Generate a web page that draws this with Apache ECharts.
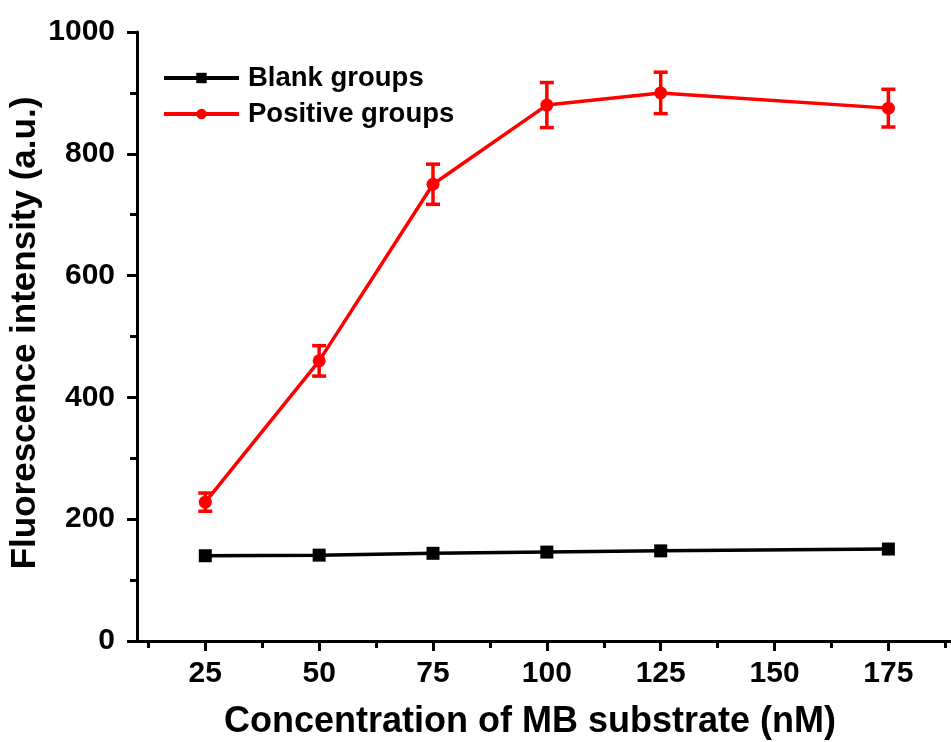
<!DOCTYPE html>
<html>
<head>
<meta charset="utf-8">
<script src="https://cdn.jsdelivr.net/npm/echarts@6/dist/echarts.min.js"></script>
<style>
html,body{margin:0;padding:0;background:#fff;}
#chart{width:951px;height:742px;}
</style>
</head>
<body>
<div id="chart"></div>
<script>
var concentrations = [25, 50, 75, 100, 125, 175];
var blankValues = [140, 141, 144, 146, 148, 151];
var positiveValues = [228, 460, 750, 880, 900, 875];
var positiveErrors = [15, 25, 33, 37, 34, 31];
var xMajorTicks = [25, 50, 75, 100, 125, 150, 175];
var xMinorTicks = [12.5, 37.5, 62.5, 87.5, 112.5, 137.5, 162.5, 187.5];
var yTitle = 'Fluorescence intensity (a.u.)';
var xTitle = 'Concentration of MB substrate (nM)';

var FONT = '"Liberation Sans", Arial, sans-serif';

var blankData = concentrations.map(function (c, i) { return [c, blankValues[i]]; });
var positiveData = concentrations.map(function (c, i) { return [c, positiveValues[i]]; });
var errorData = concentrations.map(function (c, i) {
  return [c, positiveValues[i] - positiveErrors[i], positiveValues[i] + positiveErrors[i]];
});

var chart = echarts.init(document.getElementById('chart'), null, {renderer: 'canvas'});

var option = {
  backgroundColor: '#fff',
  animation: false,
  grid: {left: 137, right: 0, top: 32, bottom: 101, containLabel: false, outerBoundsMode: 'none'},
  graphic: [{
    type: 'text', x: 25, y: 333, rotation: Math.PI / 2,
    style: {text: yTitle, fontFamily: FONT, fontWeight: 'bold', fontSize: 35, fill: '#000',
      align: 'center', verticalAlign: 'middle'}
  }],
  legend: {
    left: 157, top: 59, orient: 'vertical',
    itemWidth: 75, itemHeight: 13, itemGap: 8,
    lineStyle: {width: 4},
    textStyle: {fontFamily: FONT, fontWeight: 'bold', fontSize: 27.5, color: '#000', padding: [0, 0, 0, 4]},
    data: ['Blank groups', 'Positive groups']
  },
  xAxis: [{
    type: 'value', min: 10, max: 188.75,
    name: xTitle, nameLocation: 'middle', nameGap: 63,
    nameTextStyle: {fontFamily: FONT, fontWeight: 'bold', fontSize: 36, color: '#000', padding: [0, 28, 0, 0]},
    axisLine: {show: true, onZero: false, lineStyle: {color: '#000', width: 3}},
    axisTick: {show: true, inside: false, length: 10, lineStyle: {color: '#000', width: 3}, customValues: xMajorTicks},
    axisLabel: {show: true, margin: 18, fontFamily: FONT, fontWeight: 'bold', fontSize: 30, color: '#000', customValues: xMajorTicks},
    splitLine: {show: false}
  }, {
    type: 'value', min: 10, max: 188.75, position: 'bottom',
    axisLine: {show: false, onZero: false},
    axisTick: {show: true, inside: false, length: 7, lineStyle: {color: '#000', width: 3}, customValues: xMinorTicks},
    axisLabel: {show: false, customValues: xMinorTicks},
    splitLine: {show: false}
  }],
  yAxis: {
    type: 'value', min: 0, max: 1000, interval: 200,
    axisLine: {show: true, onZero: false, lineStyle: {color: '#000', width: 3}},
    axisTick: {show: true, inside: false, length: 10, lineStyle: {color: '#000', width: 3}},
    minorTick: {show: true, splitNumber: 2, length: 7, lineStyle: {color: '#000', width: 3}},
    axisLabel: {margin: 22, fontFamily: FONT, fontWeight: 'bold', fontSize: 30, color: '#000',
      formatter: function (v) { return String(v); }},
    splitLine: {show: false}
  },
  series: [{
    name: 'Blank groups', type: 'line', data: blankData,
    symbol: 'rect', symbolSize: 13, showAllSymbol: true,
    lineStyle: {color: '#000', width: 3.5},
    itemStyle: {color: '#000'},
    z: 3
  }, {
    name: 'Positive groups', type: 'line', data: positiveData,
    symbol: 'circle', symbolSize: 13,
    lineStyle: {color: '#ff0000', width: 3.5},
    itemStyle: {color: '#ff0000'},
    z: 3
  }, {
    name: 'err', type: 'custom', data: errorData,
    renderItem: function (params, api) {
      var x = api.value(0);
      var lo = api.coord([x, api.value(1)]);
      var hi = api.coord([x, api.value(2)]);
      var hw = 7;
      var style = {stroke: '#ff0000', lineWidth: 3.5, fill: null};
      return {
        type: 'group',
        children: [
          {type: 'line', shape: {x1: lo[0], y1: lo[1], x2: hi[0], y2: hi[1]}, style: style},
          {type: 'line', shape: {x1: lo[0] - hw, y1: lo[1], x2: lo[0] + hw, y2: lo[1]}, style: style},
          {type: 'line', shape: {x1: hi[0] - hw, y1: hi[1], x2: hi[0] + hw, y2: hi[1]}, style: style}
        ]
      };
    },
    z: 4
  }]
};
chart.setOption(option);
</script>
</body>
</html>
